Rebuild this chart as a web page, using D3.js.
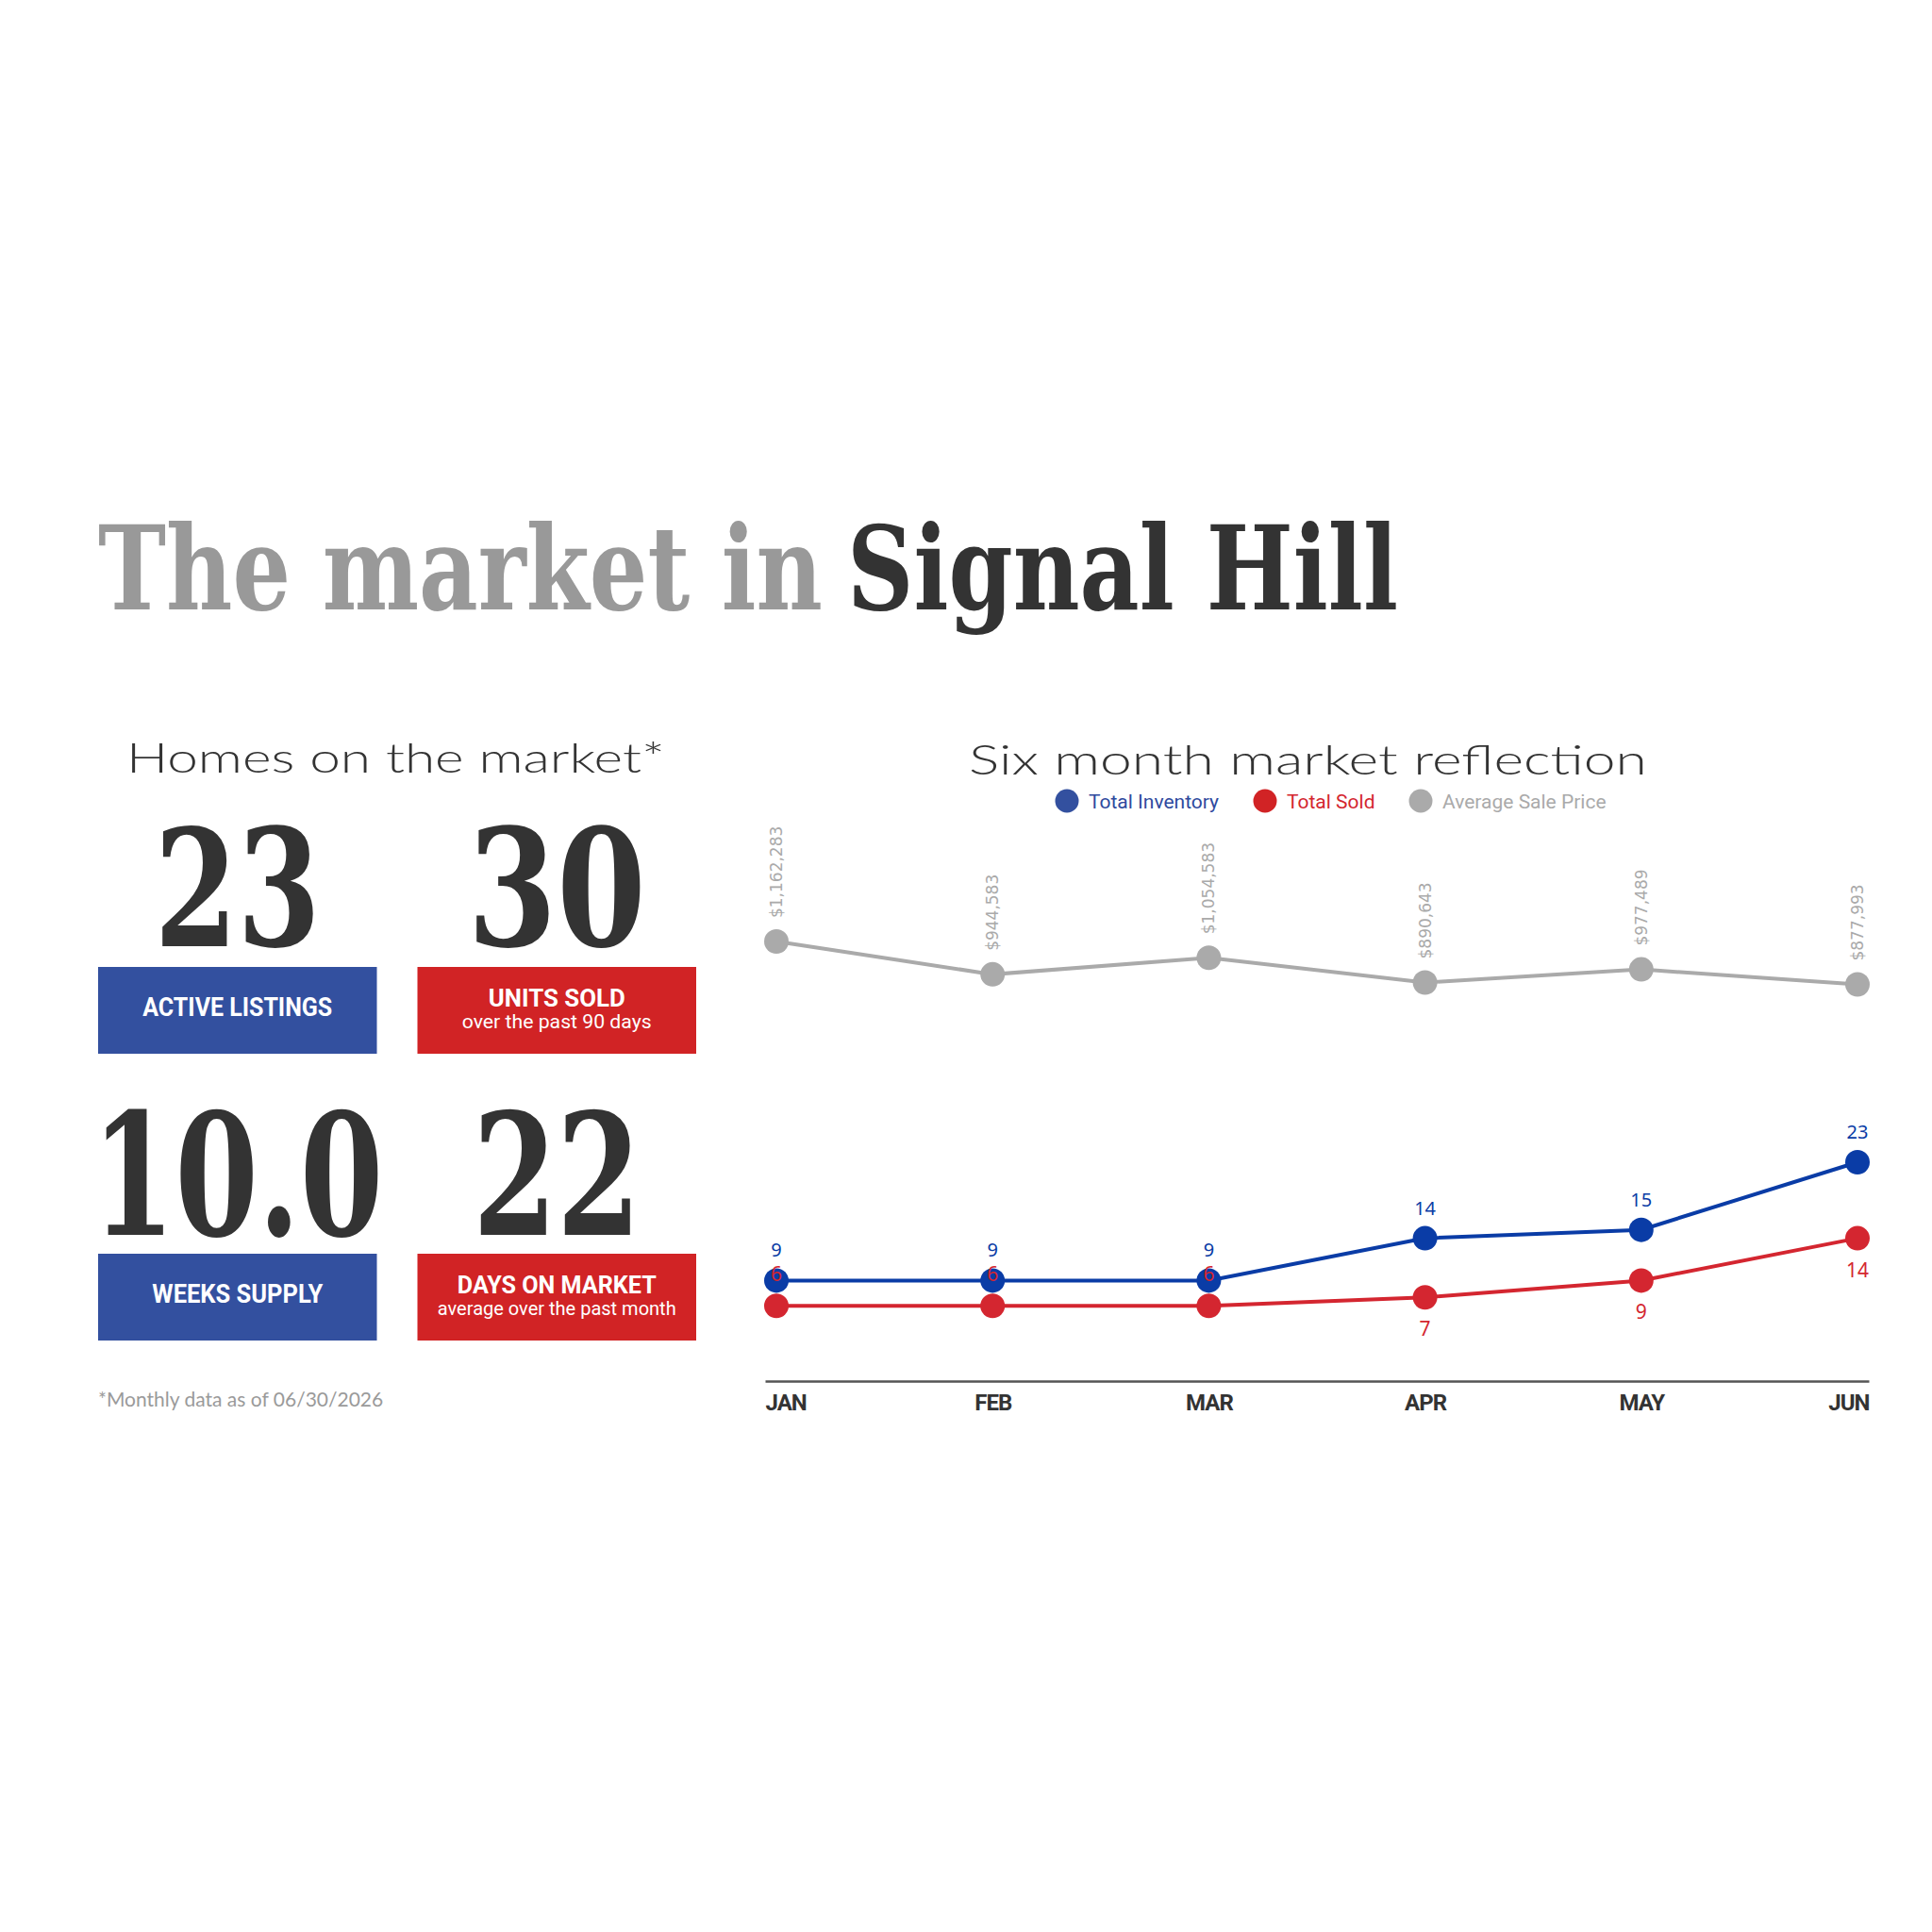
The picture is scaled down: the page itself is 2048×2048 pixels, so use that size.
<!DOCTYPE html>
<html>
<head>
<meta charset="utf-8">
<script src="https://cdn.jsdelivr.net/npm/d3@7"></script>
<style>
  body { margin: 0; background: #fff; }
  svg { display: block; }
</style>
</head>
<body>
<div id="chart"></div>
<script>
// data
var months = ["JAN", "FEB", "MAR", "APR", "MAY", "JUN"];
var totalInventory = [9, 9, 9, 14, 15, 23];
var totalSold = [6, 6, 6, 7, 9, 14];
var avgSalePrice = [1162283, 944583, 1054583, 890643, 977489, 877993];

var statValues = ["23", "30", "10.0", "22"];
var statLabels = ["ACTIVE LISTINGS", "UNITS SOLD", "WEEKS SUPPLY", "DAYS ON MARKET"];
var statSubLabels = ["", "over the past 90 days", "", "average over the past month"];

var legendNames = ["Total Inventory", "Total Sold", "Average Sale Price"];

var BLUE = "#0a3ca6";
var RED = "#d42630";
var GRAY = "#aaaaaa";
var BOX_BLUE = "#33509f";
var BOX_RED = "#d12325";
var DARK = "#333333";

var svgWidth = 2048;
var svgHeight = 2048;

var svg = d3.select("#chart")
  .append("svg")
  .attr("width", svgWidth)
  .attr("height", svgHeight);

svg.append("rect")
  .attr("width", svgWidth)
  .attr("height", svgHeight)
  .attr("fill", "#fff");

// squeeze or stretch a text horizontally so it is exactly `width` wide
function fitText(txt, x, y, width) {
  var natural = txt.node().getComputedTextLength();
  var s = width / natural;
  txt.attr("x", 0).attr("y", 0)
    .attr("transform", "translate(" + x + "," + y + ") scale(" + s + ",1)");
  return txt;
}

// big title
var serif = "'DejaVu Serif', 'Liberation Serif', serif";
var t1 = svg.append("text")
  .attr("font-family", serif)
  .attr("font-weight", "bold")
  .attr("font-size", 124)
  .attr("fill", "#999999")
  .text("The market in");
fitText(t1, 104, 646, 768);

var t2 = svg.append("text")
  .attr("font-family", serif)
  .attr("font-weight", "bold")
  .attr("font-size", 124)
  .attr("fill", DARK)
  .text("Signal Hill");
fitText(t2, 898, 646, 584);

// section headings
var wide = "Lato, 'Open Sans', sans-serif";
var h1 = svg.append("text")
  .attr("font-family", wide)
  .attr("font-weight", 300)
  .attr("font-size", 43)
  .attr("fill", DARK)
  .text("Homes on the market*");
fitText(h1, 134, 819, 571);

var h2 = svg.append("text")
  .attr("font-family", wide)
  .attr("font-weight", 300)
  .attr("font-size", 43)
  .attr("fill", DARK)
  .text("Six month market reflection");
fitText(h2, 1027, 821, 719);

// stat tiles (2 x 2)
var narrow = "Roboto, 'Liberation Sans', sans-serif";
var tileX = d3.scaleBand().domain([0, 1]).range([104, 738]).paddingInner(0.127);
var tileRowY = [1025, 1329];
var numBaseline = [1003, 1309];
var numSize = [172, 180];
var numWidth = [176, 189, 309, 178];
var labelWidth = [201, 145, 181, 211];
var subWidth = [0, 201, 0, 253];

statValues.forEach(function(v, i) {
  var col = i % 2;
  var row = Math.floor(i / 2);
  var x0 = tileX(col);
  var cx = x0 + tileX.bandwidth() / 2;

  var num = svg.append("text")
    .attr("text-anchor", "middle")
    .attr("font-family", serif)
    .attr("font-weight", "bold")
    .attr("font-size", numSize[row])
    .attr("fill", DARK)
    .text(v);
  fitText(num, cx, numBaseline[row], numWidth[i]);

  svg.append("rect")
    .attr("x", x0)
    .attr("y", tileRowY[row])
    .attr("width", tileX.bandwidth())
    .attr("height", 92)
    .attr("fill", col === 0 ? BOX_BLUE : BOX_RED);

  var hasSub = statSubLabels[i] !== "";
  var lab = svg.append("text")
    .attr("text-anchor", "middle")
    .attr("font-family", narrow)
    .attr("font-weight", "bold")
    .attr("font-size", hasSub ? 25 : 27)
    .attr("fill", "#fff")
    .text(statLabels[i]);
  fitText(lab, cx, tileRowY[row] + (hasSub ? 42 : 52), labelWidth[i]);

  if (hasSub) {
    var sub = svg.append("text")
      .attr("text-anchor", "middle")
      .attr("font-family", narrow)
      .attr("font-size", 20)
      .attr("fill", "#fff")
      .text(statSubLabels[i]);
    fitText(sub, cx, tileRowY[row] + 65, subWidth[i]);
  }
});

// footnote
svg.append("text")
  .attr("x", 104)
  .attr("y", 1491)
  .attr("font-family", "Lato, sans-serif")
  .attr("font-size", 21)
  .attr("fill", "#9a9a9a")
  .text("*Monthly data as of 06/30/2026");

// legend
var legendColors = ["#2e4a9e", RED, GRAY];
var legendDot = [BOX_BLUE, BOX_RED, GRAY];
var legendX = [1131, 1341, 1506];
legendNames.forEach(function(name, i) {
  svg.append("circle")
    .attr("cx", legendX[i])
    .attr("cy", 849)
    .attr("r", 12.5)
    .attr("fill", legendDot[i]);
  svg.append("text")
    .attr("x", legendX[i] + 23)
    .attr("y", 857)
    .attr("font-family", narrow)
    .attr("font-size", 21)
    .attr("fill", legendColors[i])
    .text(name);
});

// line chart
var xScale = d3.scalePoint()
  .domain(months)
  .range([811, 1981])
  .padding(0.0524);

var priceScale = d3.scaleLinear()
  .domain([800000, 1200000])
  .range([1056, 992]);

var countScale = d3.scaleLinear()
  .domain([0, 23])
  .range([1438, 1232]);

// x axis
var bottomAxis = d3.axisBottom(xScale).tickSize(0).tickSizeOuter(0).tickPadding(14);
var xAxis = svg.append("g")
  .attr("transform", "translate(0, 1464)")
  .call(bottomAxis);

xAxis.select(".domain")
  .attr("stroke", "#555")
  .attr("stroke-width", 2.5);

xAxis.selectAll(".tick text")
  .attr("font-family", narrow)
  .attr("font-weight", "bold")
  .attr("font-size", 24)
  .attr("fill", DARK)
  .attr("letter-spacing", -1)
  .attr("dy", "0.71em")
  .attr("y", 14);

xAxis.selectAll(".tick text")
  .filter(function(d) { return d === months[0]; })
  .attr("text-anchor", "start")
  .attr("x", 811 - xScale(months[0]));

xAxis.selectAll(".tick text")
  .filter(function(d) { return d === months[months.length - 1]; })
  .attr("text-anchor", "end")
  .attr("x", 1981 - xScale(months[months.length - 1]));

function drawSeries(values, yScale, color) {
  var line = d3.line()
    .x(function(d, i) { return xScale(months[i]); })
    .y(function(d) { return yScale(d); });

  var g = svg.append("g");
  g.append("path")
    .datum(values)
    .attr("d", line)
    .attr("fill", "none")
    .attr("stroke", color)
    .attr("stroke-width", 4);

  g.selectAll("circle")
    .data(values)
    .enter()
    .append("circle")
    .attr("cx", function(d, i) { return xScale(months[i]); })
    .attr("cy", function(d) { return yScale(d); })
    .attr("r", 13)
    .attr("fill", color);
  return g;
}

drawSeries(avgSalePrice, priceScale, GRAY);
drawSeries(totalSold, countScale, RED);
drawSeries(totalInventory, countScale, BLUE);

// price labels (rotated)
svg.append("g").selectAll("text")
  .data(avgSalePrice)
  .enter()
  .append("text")
  .attr("transform", function(d, i) {
    return "translate(" + (xScale(months[i]) + 6) + "," + (priceScale(d) - 25) + ") rotate(-90)";
  })
  .attr("font-family", "'DejaVu Sans', sans-serif")
  .attr("font-size", 17)
  .attr("fill", GRAY)
  .text(function(d) { return "$" + d3.format(",")(d); });

// inventory labels above
svg.append("g").selectAll("text")
  .data(totalInventory)
  .enter()
  .append("text")
  .attr("x", function(d, i) { return xScale(months[i]); })
  .attr("y", function(d) { return countScale(d) - 25; })
  .attr("text-anchor", "middle")
  .attr("font-family", "'Noto Sans', sans-serif")
  .attr("font-size", 20)
  .attr("fill", BLUE)
  .text(function(d) { return d; });

// sold labels: above the point when close to inventory, otherwise below
svg.append("g").selectAll("text")
  .data(totalSold)
  .enter()
  .append("text")
  .attr("x", function(d, i) { return xScale(months[i]); })
  .attr("y", function(d, i) {
    return totalInventory[i] - d <= 3 ? countScale(d) - 26 : countScale(d) + 41;
  })
  .attr("text-anchor", "middle")
  .attr("font-family", "'Noto Sans', sans-serif")
  .attr("font-size", 21)
  .attr("fill", RED)
  .text(function(d) { return d; });
</script>
</body>
</html>
